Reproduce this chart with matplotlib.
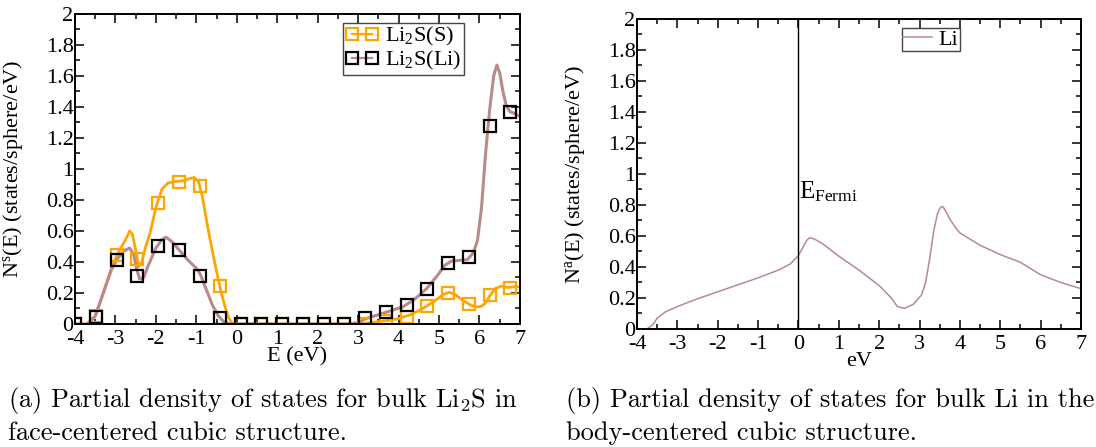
import numpy as np
import matplotlib.pyplot as plt
from matplotlib.lines import Line2D
from matplotlib.ticker import MultipleLocator


# ---------- data: panel (a), Li2S partial DOS ----------
# smooth curves (energy in eV, DOS in states/sphere/eV)
e_s = [-4.0, -3.7, -3.5, -3.3, -3.1, -2.95, -2.8, -2.7, -2.65, -2.58, -2.5, -2.43,
       -2.35, -2.25, -2.15, -2.0, -1.85, -1.7, -1.5, -1.3, -1.15, -1.05, -0.95,
       -0.85, -0.7, -0.55, -0.4, -0.3, -0.2, -0.1, 0.0, 1.0, 2.0, 3.0, 3.2, 3.5,
       3.8, 4.0, 4.3, 4.6, 4.9, 5.1, 5.25, 5.4, 5.6, 5.8, 5.95, 6.05, 6.15, 6.25,
       6.4, 6.55, 6.7, 6.85, 7.0]
dos_s = [0.0, 0.0, 0.05, 0.2, 0.36, 0.45, 0.52, 0.57, 0.6, 0.58, 0.48, 0.37,
         0.4, 0.5, 0.58, 0.75, 0.87, 0.91, 0.92, 0.925, 0.94, 0.945, 0.92,
         0.82, 0.6, 0.4, 0.22, 0.12, 0.04, 0.0, 0.0, 0.0, 0.0, 0.0, 0.005, 0.015,
         0.025, 0.035, 0.06, 0.1, 0.15, 0.19, 0.205, 0.19, 0.15, 0.12, 0.11, 0.115,
         0.135, 0.18, 0.23, 0.245, 0.235, 0.24, 0.24]

e_li = [-4.0, -3.7, -3.5, -3.3, -3.1, -2.95, -2.8, -2.65, -2.55, -2.47, -2.4,
        -2.3, -2.2, -2.0, -1.85, -1.75, -1.6, -1.4, -1.2, -1.0, -0.9, -0.75,
        -0.6, -0.45, -0.3, -0.15, 0.0, 1.0, 2.0, 2.8, 3.0, 3.2, 3.5, 3.8, 4.1,
        4.4, 4.7, 4.95, 5.15, 5.3, 5.5, 5.7, 5.85, 5.95, 6.05, 6.15, 6.25, 6.35,
        6.43, 6.5, 6.58, 6.66, 6.75, 6.85, 7.0]
dos_li = [0.0, 0.0, 0.05, 0.2, 0.35, 0.42, 0.47, 0.49, 0.45, 0.35, 0.29,
          0.3, 0.37, 0.49, 0.545, 0.56, 0.53, 0.47, 0.41, 0.36, 0.32, 0.22,
          0.12, 0.05, 0.01, 0.0, 0.0, 0.0, 0.0, 0.0, 0.01, 0.035, 0.06, 0.085, 0.11,
          0.16, 0.23, 0.31, 0.38, 0.405, 0.41, 0.415, 0.46, 0.54, 0.75, 1.1, 1.38, 1.6,
          1.67, 1.62, 1.5, 1.41, 1.37, 1.36, 1.34]

# symbols drawn on the curves
e_sym = [-4.0, -3.49, -2.97, -2.46, -1.95, -1.44, -0.92, -0.41, 0.1, 0.61, 1.13,
         1.64, 2.15, 2.66, 3.17, 3.69, 4.2, 4.71, 5.22, 5.74, 6.25, 6.76]
sym_s = [0.0, 0.05, 0.445, 0.42, 0.78, 0.918, 0.89, 0.245, 0.0, 0.0, 0.0,
         0.0, 0.0, 0.0, 0.0, 0.02, 0.047, 0.116, 0.202, 0.13, 0.187, 0.23]
sym_li = [0.0, 0.047, 0.41, 0.31, 0.505, 0.477, 0.31, 0.037, 0.0, 0.0, 0.0,
          0.0, 0.0, 0.0, 0.037, 0.075, 0.12, 0.224, 0.396, 0.434, 1.28, 1.366]

# ---------- data: panel (b), bulk Li ----------
e_b = [-4.0, -3.75, -3.6, -3.5, -3.3, -3.0, -2.5, -2.0, -1.5, -1.0, -0.5, -0.2,
       0.0, 0.1, 0.2, 0.28, 0.4, 0.6, 1.0, 1.5, 2.0, 2.3, 2.45, 2.63, 2.85, 3.05,
       3.15, 3.25, 3.35, 3.45, 3.52, 3.58, 3.65, 3.75, 3.9, 4.0, 4.5, 5.0, 5.5,
       6.0, 6.5, 7.0]
dos_b = [0.0, 0.0, 0.03, 0.07, 0.11, 0.145, 0.195, 0.24, 0.285, 0.33, 0.38, 0.42,
         0.475, 0.52, 0.57, 0.59, 0.58, 0.55, 0.47, 0.38, 0.28, 0.2, 0.145, 0.133, 0.16,
         0.22, 0.3, 0.45, 0.63, 0.75, 0.785, 0.79, 0.76, 0.71, 0.65, 0.62, 0.54, 0.48,
         0.43, 0.35, 0.30, 0.26]

orange = "#ffa500"
brown = "#b88a8a"

plt.rcParams["font.family"] = "Liberation Serif"
plt.rcParams["font.size"] = 12
plt.rcParams["axes.unicode_minus"] = False
plt.rcParams["mathtext.fontset"] = "custom"
plt.rcParams["mathtext.rm"] = "Liberation Serif"
plt.rcParams["mathtext.it"] = "Liberation Serif"

fig = plt.figure(figsize=(10.96, 4.47), dpi=100)
ax1 = fig.add_axes([0.0684, 0.2752, 0.4060, 0.6935])
ax2 = fig.add_axes([0.5812, 0.2640, 0.4051, 0.6935])


def style_axis(ax):
    ax.set_xlim(-4, 7)
    ax.set_ylim(0, 2)
    ax.xaxis.set_major_locator(MultipleLocator(1))
    ax.xaxis.set_minor_locator(MultipleLocator(0.5))
    ax.yaxis.set_major_locator(MultipleLocator(0.2))
    ax.yaxis.set_minor_locator(MultipleLocator(0.1))
    ax.yaxis.set_major_formatter(plt.FuncFormatter(lambda v, p: f"{v:g}"))
    ax.tick_params(which="both", direction="in", top=True, right=True,
                   width=1.1, labelsize=16)
    ax.tick_params(axis="x", pad=4)
    ax.tick_params(axis="y", pad=1)
    ax.tick_params(which="major", length=6.5)
    ax.tick_params(which="minor", length=3.3)
    for sp in ax.spines.values():
        sp.set_linewidth(1.4)


# panel (a)
ax1.plot(e_s, dos_s, color=orange, lw=2.0)
ax1.plot(e_li, dos_li, color=brown, lw=2.2)
ax1.plot(e_sym, sym_s, ls="none", marker="s", ms=8.5, mfc="none",
         mec=orange, mew=1.6)
ax1.plot(e_sym, sym_li, ls="none", marker="s", ms=8.5, mfc="none",
         mec="black", mew=1.6)
style_axis(ax1)
ax1.set_xlabel("E (eV)", fontsize=16, labelpad=-1)
ax1.set_ylabel("N$^{s}$(E) (states/sphere/eV)", fontsize=16)
ax1.yaxis.set_label_coords(-0.112, 0.5)

handles = [
    Line2D([], [], color=orange, lw=1.6, marker="s", ms=8.5, mfc="none",
           mec=orange, mew=1.6),
    Line2D([], [], color=brown, lw=1.6, marker="s", ms=8.5, mfc="none",
           mec="black", mew=1.6),
]
leg1 = ax1.legend(handles, ["Li$_{2}$S(S)", "Li$_{2}$S(Li)"], loc="upper left",
                  bbox_to_anchor=(0.602, 0.971), borderaxespad=0, numpoints=2,
                  handlelength=1.5, handletextpad=0.3, borderpad=0.1,
                  labelspacing=0.05, fontsize=16, fancybox=False,
                  edgecolor="#444444", framealpha=1)
leg1.get_frame().set_linewidth(1.0)

# panel (b)
ax2.plot(e_b, dos_b, color=brown, lw=1.1)
ax2.axvline(0, color="black", lw=1.0)
ax2.text(0.02, 0.84, "E$_{\\mathrm{Fermi}}$", fontsize=18)
style_axis(ax2)
ax2.set_xlabel("eV", fontsize=16, labelpad=-1)
ax2.set_ylabel("N$^{a}$(E) (states/sphere/eV)", fontsize=16)
ax2.yaxis.set_label_coords(-0.112, 0.5)
leg2 = ax2.legend(["Li"], loc="upper left", bbox_to_anchor=(0.597, 0.971),
                  borderaxespad=0, handlelength=1.3, handletextpad=0.3,
                  borderpad=0.05, fontsize=16, fancybox=False,
                  edgecolor="#444444", framealpha=1)
leg2.get_frame().set_linewidth(1.0)

# captions
cap_font = dict(family="cmr10", fontsize=19, va="center", math_fontfamily="cm")
fig.text(8 / 1096, 1 - 401 / 447,
         "(a) Partial density of states for bulk Li$_2$S in", **cap_font)
fig.text(8 / 1096, 1 - 433 / 447, "face-centered cubic structure.", **cap_font)
fig.text(566 / 1096, 1 - 401 / 447,
         "(b) Partial density of states for bulk Li in the", **cap_font)
fig.text(566 / 1096, 1 - 433 / 447, "body-centered cubic structure.", **cap_font)

plt.savefig("out.png", dpi=100)
